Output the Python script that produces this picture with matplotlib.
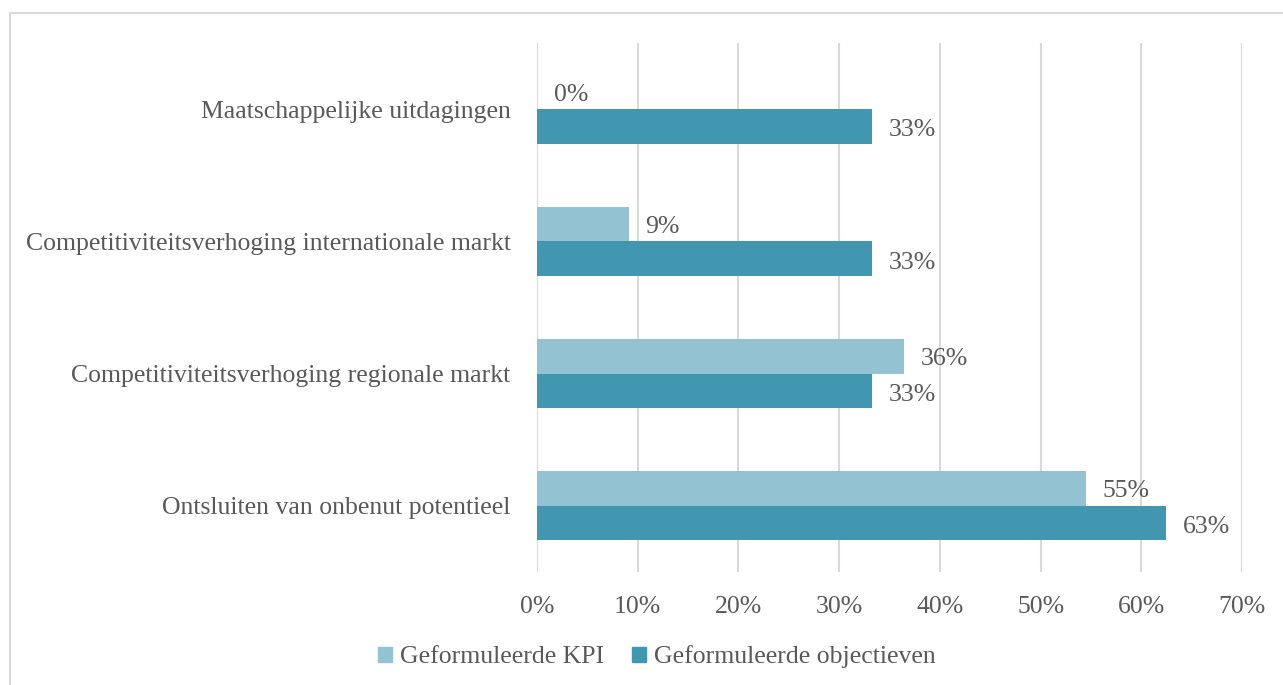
import matplotlib.pyplot as plt
from matplotlib.patches import Rectangle, Patch

categories = ['Ontsluiten van onbenut potentieel',
              'Competitiviteitsverhoging regionale markt',
              'Competitiviteitsverhoging internationale markt',
              'Maatschappelijke uitdagingen']
kpi = [54.5, 36.4, 9.1, 0.0]
objectieven = [62.5, 33.3, 33.3, 33.3]
series_names = ['Geformuleerde KPI', 'Geformuleerde objectieven']
xticks = [0, 10, 20, 30, 40, 50, 60, 70]

c_kpi = '#93C2D3'
c_obj = '#4297B0'
txt = '#595959'
grid = '#D9D9D9'

plt.rcParams['font.family'] = ['Liberation Serif', 'DejaVu Serif']
fs = 18.5


def pct(v):
    # round half up like Excel
    return '%d%%' % int(v + 0.5)


fig = plt.figure(figsize=(12.83, 6.85), dpi=100)
ax = fig.add_axes([537/1283, 1 - 572/685, (1242 - 537)/1283, (572 - 43)/685])

h = 0.26
y = list(range(len(categories)))
ax.barh([v + h/2 for v in y], kpi, height=h, color=c_kpi, zorder=2)
ax.barh([v - h/2 for v in y], objectieven, height=h, color=c_obj, zorder=2)

for i in y:
    ax.annotate(pct(kpi[i]), (kpi[i], i + h/2), xytext=(12, -2),
                textcoords='offset points', va='center', ha='left',
                fontsize=fs, color=txt)
    ax.annotate(pct(objectieven[i]), (objectieven[i], i - h/2), xytext=(12, -3),
                textcoords='offset points', va='center', ha='left',
                fontsize=fs, color=txt)

ax.set_xlim(0, 70)
ax.set_ylim(-0.5, 3.5)
ax.set_xticks(xticks)
ax.set_xticklabels([pct(t) for t in xticks])
ax.set_yticks(y)
ax.set_yticklabels(categories)
ax.tick_params(axis='both', length=0, labelsize=fs, labelcolor=txt)
ax.tick_params(axis='x', pad=17)
ax.tick_params(axis='y', pad=19)
ax.grid(True, axis='x', color=grid, linewidth=1.5, zorder=0)
ax.set_axisbelow(True)
for s in ax.spines.values():
    s.set_visible(False)

handles = [Patch(color=c_kpi), Patch(color=c_obj)]
fig.legend(handles, series_names, loc='center', bbox_to_anchor=(657/1283, 1 - 657/685),
           ncol=2, frameon=False, fontsize=fs, labelcolor=txt,
           handlelength=0.55, handleheight=0.55, handletextpad=0.3, columnspacing=1.1)

fig.patches.append(Rectangle((10/1283, -0.02), 1.0, 1 - 13/685 + 0.02,
                             transform=fig.transFigure, fill=False,
                             edgecolor=grid, linewidth=1.5))

fig.savefig('out.png', dpi=100)
